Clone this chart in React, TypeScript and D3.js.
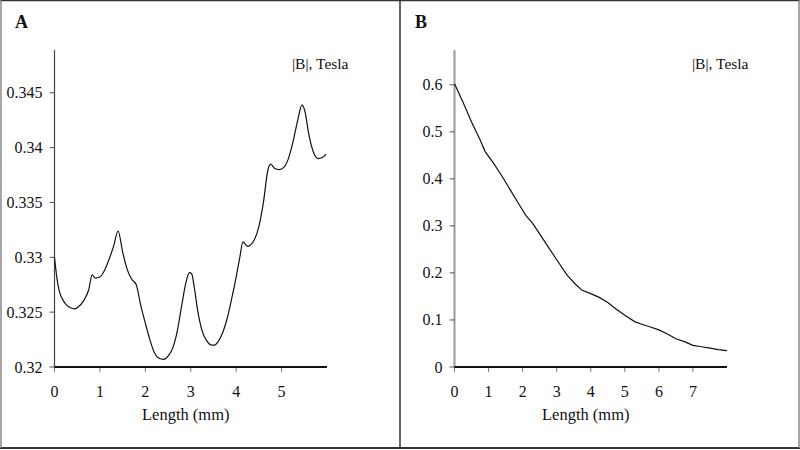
import { useEffect, useRef } from "react"
import * as d3 from "d3"

// Panel A: |B| along length, 0–6 mm
const lengthA = [
  0, 0.05, 0.1, 0.15, 0.25, 0.35, 0.45, 0.5, 0.65, 0.75, 0.83, 0.9, 1.0, 1.1, 1.2, 1.3, 1.4,
  1.5, 1.6, 1.7, 1.8, 1.9, 2.0, 2.1, 2.2, 2.3, 2.4, 2.5, 2.6, 2.7, 2.8, 2.9, 2.97, 3.02, 3.08,
  3.15, 3.25, 3.35, 3.45, 3.52, 3.6, 3.7, 3.8, 3.9, 4.0, 4.08, 4.15, 4.25, 4.4, 4.5, 4.6, 4.7,
  4.76, 4.85, 4.95, 5.05, 5.15, 5.25, 5.35, 5.45, 5.52, 5.6, 5.7, 5.8, 5.9, 5.98,
]
const fieldA = [
  0.33, 0.3282, 0.3270, 0.3264, 0.3257, 0.3254, 0.3253, 0.3254, 0.3261, 0.3270, 0.3284, 0.3281,
  0.3282, 0.3288, 0.3298, 0.3310, 0.3324, 0.3305, 0.3289, 0.3280, 0.3275, 0.3256, 0.3240, 0.3225,
  0.3213, 0.3208, 0.3207, 0.3210, 0.3217, 0.3232, 0.3256, 0.3278, 0.3286, 0.3285, 0.3272, 0.3252,
  0.3233, 0.3224, 0.3220, 0.3220, 0.3223, 0.3231, 0.3244, 0.3262, 0.3282, 0.3300, 0.3314, 0.3310,
  0.3316, 0.3328, 0.3350, 0.3380, 0.3385, 0.3381, 0.3380, 0.3382, 0.3390, 0.3405, 0.3424, 0.3439,
  0.3432, 0.3412, 0.3396, 0.3390, 0.3391, 0.3394,
]
const ticksXA = [0, 1, 2, 3, 4, 5]
const ticksYA = [0.32, 0.325, 0.33, 0.335, 0.34, 0.345]

// Panel B: |B| along length, 0–8 mm
const lengthB = [
  0, 0.25, 0.5, 0.75, 0.9, 1.15, 1.4, 1.65, 1.9, 2.1, 2.3, 2.6, 3.0, 3.3, 3.55, 3.75, 4.0, 4.25,
  4.5, 4.75, 5.0, 5.3, 5.5, 5.75, 6.0, 6.25, 6.5, 6.75, 7.0, 7.25, 7.5, 7.75, 8.0,
]
const fieldB = [
  0.602, 0.563, 0.521, 0.483, 0.458, 0.433, 0.405, 0.375, 0.345, 0.322, 0.305, 0.272, 0.228,
  0.196, 0.176, 0.163, 0.156, 0.148, 0.137, 0.123, 0.11, 0.096, 0.091, 0.085, 0.079, 0.07, 0.06,
  0.054, 0.046, 0.043, 0.04, 0.037, 0.035,
]
const ticksXB = [0, 1, 2, 3, 4, 5, 6, 7]
const ticksYB = [0, 0.1, 0.2, 0.3, 0.4, 0.5, 0.6]

const FONT = "'Liberation Serif', 'Times New Roman', serif"
const W = 800
const H = 450

interface PanelSpec {
  letter: string
  left: number
  xs: number[]
  ys: number[]
  xDomain: [number, number]
  yDomain: [number, number]
  xTicks: number[]
  yTicks: number[]
  yAxisColor: string
  yAxisWidth: number
  curve: d3.CurveFactory
}

export default function App() {
  const svgRef = useRef<SVGSVGElement>(null)

  useEffect(() => {
    if (!svgRef.current) return
    const svg = d3.select(svgRef.current)
    svg.selectAll("*").remove()

    svg.append("rect").attr("width", W).attr("height", H).attr("fill", "#fff")

    const panels: PanelSpec[] = [
      {
        letter: "A", left: 0, xs: lengthA, ys: fieldA,
        xDomain: [0, 6], yDomain: [0.32, 0.3489],
        xTicks: ticksXA, yTicks: ticksYA,
        yAxisColor: "#444", yAxisWidth: 1.2, curve: d3.curveMonotoneX,
      },
      {
        letter: "B", left: 400, xs: lengthB, ys: fieldB,
        xDomain: [0, 8], yDomain: [0, 0.674],
        xTicks: ticksXB, yTicks: ticksYB,
        yAxisColor: "#9a9a9a", yAxisWidth: 2, curve: d3.curveLinear,
      },
    ]

    panels.forEach((p) => {
      const g = svg.append("g").attr("transform", `translate(${p.left},0)`)
      const x0 = 54.5
      const x1 = 327
      const yBottom = 367
      const yTop = 50

      const x = d3.scaleLinear().domain(p.xDomain).range([x0, x1])
      const y = d3.scaleLinear().domain(p.yDomain).range([yBottom, yTop])

      // panel letter
      g.append("text")
        .attr("x", 15)
        .attr("y", 28)
        .attr("font-family", FONT)
        .attr("font-weight", "bold")
        .attr("font-size", 18)
        .attr("fill", "#111")
        .text(p.letter)

      // annotation
      g.append("text")
        .attr("x", 292)
        .attr("y", 69)
        .attr("font-family", FONT)
        .attr("font-size", 15.5)
        .attr("fill", "#111")
        .text("|B|, Tesla")

      // y axis
      g.append("line")
        .attr("x1", x0).attr("x2", x0)
        .attr("y1", yTop).attr("y2", yBottom)
        .attr("stroke", p.yAxisColor)
        .attr("stroke-width", p.yAxisWidth)

      p.yTicks.forEach((t) => {
        const ty = y(t)
        g.append("line")
          .attr("x1", x0 - 5).attr("x2", x0)
          .attr("y1", ty).attr("y2", ty)
          .attr("stroke", "#555")
          .attr("stroke-width", 1)
        g.append("text")
          .attr("x", x0 - 12)
          .attr("y", ty)
          .attr("text-anchor", "end")
          .attr("dominant-baseline", "central")
          .attr("font-family", FONT)
          .attr("font-size", 16)
          .attr("fill", "#111")
          .text(d3.format("~g")(t))
      })

      // x axis
      p.xTicks.forEach((t) => {
        const tx = x(t)
        g.append("line")
          .attr("x1", tx).attr("x2", tx)
          .attr("y1", yBottom).attr("y2", yBottom + 5)
          .attr("stroke", "#777")
          .attr("stroke-width", 1)
        g.append("text")
          .attr("x", tx)
          .attr("y", yBottom + 30)
          .attr("text-anchor", "middle")
          .attr("font-family", FONT)
          .attr("font-size", 16)
          .attr("fill", "#111")
          .text(String(t))
      })

      g.append("line")
        .attr("x1", x0).attr("x2", x1)
        .attr("y1", yBottom).attr("y2", yBottom)
        .attr("stroke", "#111")
        .attr("stroke-width", 2)

      g.append("text")
        .attr("x", (x0 + x1) / 2 - 5)
        .attr("y", 420)
        .attr("text-anchor", "middle")
        .attr("font-family", FONT)
        .attr("font-size", 16.5)
        .attr("fill", "#111")
        .text("Length (mm)")

      // data line
      const pts: [number, number][] = p.xs.map((v, i) => [v, p.ys[i]])
      const line = d3.line<[number, number]>()
        .x((d) => x(d[0]))
        .y((d) => y(d[1]))
        .curve(p.curve)
      g.append("path")
        .datum(pts)
        .attr("d", line)
        .attr("fill", "none")
        .attr("stroke", "#111")
        .attr("stroke-width", 1.2)
    })

    // frames
    svg.append("line").attr("x1", 0).attr("x2", W).attr("y1", 0.5).attr("y2", 0.5)
      .attr("stroke", "#333").attr("stroke-width", 1.5)
    svg.append("line").attr("x1", 0).attr("x2", W).attr("y1", 448).attr("y2", 448)
      .attr("stroke", "#333").attr("stroke-width", 2)
    svg.append("line").attr("x1", 1).attr("x2", 1).attr("y1", 0).attr("y2", 448)
      .attr("stroke", "#888").attr("stroke-width", 1.5)
    svg.append("line").attr("x1", 400).attr("x2", 400).attr("y1", 0).attr("y2", 448)
      .attr("stroke", "#333").attr("stroke-width", 1.5)
    svg.append("line").attr("x1", 799).attr("x2", 799).attr("y1", 0).attr("y2", 448)
      .attr("stroke", "#888").attr("stroke-width", 1.5)
  }, [])

  return (
    <div style={{ position: "absolute", left: 0, top: 0 }}>
      <svg ref={svgRef} width={W} height={H} style={{ display: "block" }} />
    </div>
  )
}
